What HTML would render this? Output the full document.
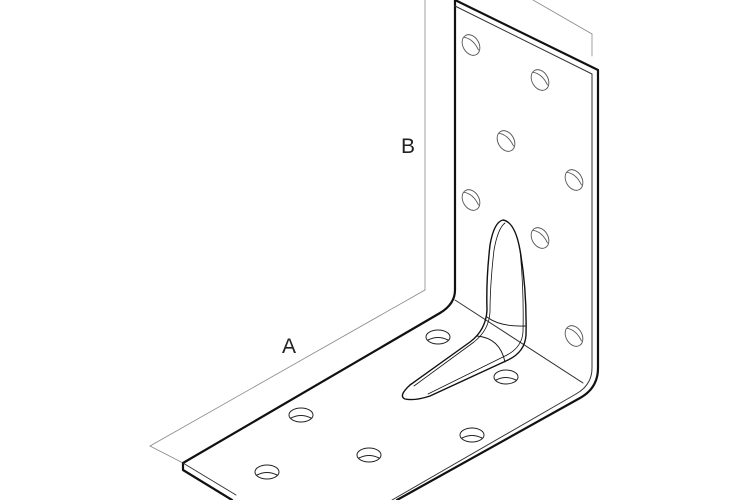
<!DOCTYPE html>
<html><head><style>html,body{margin:0;padding:0;background:#fff}svg{display:block}</style></head>
<body>
<svg width="750" height="500" viewBox="0 0 750 500" xmlns="http://www.w3.org/2000/svg" fill="none" stroke-linejoin="round" stroke-linecap="round">
<g stroke="#888" stroke-width="0.8">
<line x1="425" y1="0" x2="425" y2="290"/>
<line x1="425" y1="290" x2="150" y2="446"/>
<line x1="150" y1="446" x2="183" y2="463"/>
<line x1="533" y1="0" x2="592" y2="34"/>
<line x1="592" y1="34" x2="592" y2="56"/>
</g>
<text x="401" y="153" font-family="Liberation Sans, sans-serif" font-size="21" fill="#222">B</text>
<text x="282" y="353" font-family="Liberation Sans, sans-serif" font-size="21" fill="#222">A</text>
<g stroke="#111" stroke-width="2.2">
<path d="M455 0 L455 290 Q455 304 440 313 L183 463 L183 470 L232 500"/>
<path d="M455 0 L598 70 L598 368 Q598 388 580 398 L397 500"/>
</g>
<g stroke="#333" stroke-width="1">
<path d="M455 6 L592 74 L592 368 Q592 385 576 394 L392 500"/>
<path d="M183 463 L236 495"/>
<path d="M455 300 L583 383"/>
</g>
<g stroke="#111" stroke-width="1.4">
<path d="M503 220 Q494 222 490 245 Q486 280 487 310 Q486 330 470 342 L410 385 Q398 396 405 399 Q415 401 430 396 L508 360 Q525 352 526 335 Q527 290 520 250 Q515 222 503 220 Z"/>
<path d="M505 223 Q498 228 494 250 Q490 285 490 312 Q489 330 474 342 L414 386" stroke-width="0.8"/>
<path d="M520 250 Q524 290 523 332 Q522 348 505 356 L428 394" stroke-width="0.8"/>
<path d="M487 317 Q500 327 525 326" stroke-width="0.9"/>
<path d="M477 336 Q500 338 505 362" stroke-width="0.9"/>
</g>
<g stroke="#555" stroke-width="0.9">
<g transform="translate(471 45) rotate(-30)"><ellipse rx="8" ry="11"/><path d="M-2 -10 Q5 -4 4 8"/></g>
<g transform="translate(540 80) rotate(-30)"><ellipse rx="8" ry="11"/><path d="M-2 -10 Q5 -4 4 8"/></g>
<g transform="translate(506 141) rotate(-30)"><ellipse rx="8" ry="11"/><path d="M-2 -10 Q5 -4 4 8"/></g>
<g transform="translate(574 180) rotate(-30)"><ellipse rx="8" ry="11"/><path d="M-2 -10 Q5 -4 4 8"/></g>
<g transform="translate(471 200) rotate(-30)"><ellipse rx="8" ry="11"/><path d="M-2 -10 Q5 -4 4 8"/></g>
<g transform="translate(540 238) rotate(-30)"><ellipse rx="8" ry="11"/><path d="M-2 -10 Q5 -4 4 8"/></g>
<g transform="translate(574 336) rotate(-30)"><ellipse rx="8" ry="11"/><path d="M-2 -10 Q5 -4 4 8"/></g>
</g>
<g stroke="#222" stroke-width="1">
<ellipse cx="438" cy="337" rx="12" ry="7"/><path d="M428 340 Q438 335 448 340"/>
<ellipse cx="506" cy="377" rx="12" ry="7"/><path d="M496 380 Q506 375 516 380"/>
<ellipse cx="301" cy="415" rx="12" ry="7"/><path d="M291 418 Q301 413 311 418"/>
<ellipse cx="472" cy="435" rx="12" ry="7"/><path d="M462 438 Q472 433 482 438"/>
<ellipse cx="369" cy="455" rx="12" ry="7"/><path d="M359 458 Q369 453 379 458"/>
<ellipse cx="267" cy="472" rx="12" ry="7"/><path d="M257 475 Q267 470 277 475"/>
</g>
</svg>
</body></html>
